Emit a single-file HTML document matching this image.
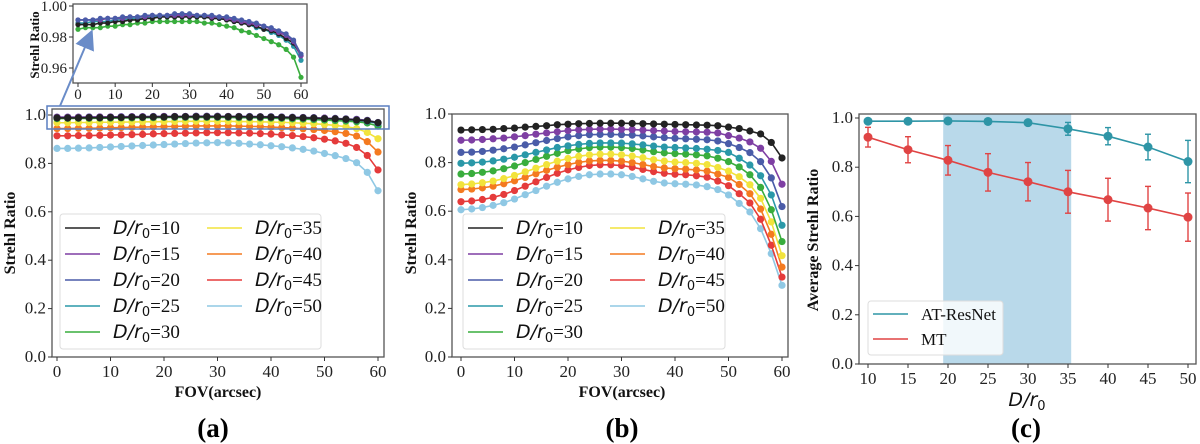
<!DOCTYPE html>
<html><head><meta charset="utf-8">
<style>
html,body{margin:0;padding:0;background:#fff;}
svg{display:block;}
text{font-family:"Liberation Serif",serif;}
.tk{font-family:"Liberation Serif",serif;font-size:17px;fill:#222;}
.tl{font-family:"Liberation Serif",serif;font-size:15px;font-weight:bold;fill:#111;}
.lg{font-family:"Liberation Serif",serif;font-size:19px;fill:#111;}
.it{font-family:"DejaVu Sans",sans-serif;font-style:italic;}
.pl{font-family:"Liberation Serif",serif;font-size:27px;font-weight:bold;fill:#000;}
</style></head>
<body>
<svg id="fig" width="1200" height="444" viewBox="0 0 1200 444" xmlns="http://www.w3.org/2000/svg"></svg>
<script>
// ---------- data ----------
const fov = [0,2,4,6,8,10,12,14,16,18,20,22,24,26,28,30,32,34,36,38,40,42,44,46,48,50,52,54,56,58,60];
const seriesLabels = ["10","15","20","25","30","35","40","45","50"];
const seriesColors = ["#222222","#7e3fa3","#4a5ca8","#2a98a8","#39ad3d","#f2e33c","#f47a20","#e53b3b","#8fc8e4"];
const aD10 = [0.988,0.988,0.988,0.989,0.989,0.990,0.990,0.991,0.991,0.992,0.992,0.993,0.993,0.993,0.993,0.993,0.993,0.993,0.992,0.992,0.991,0.990,0.989,0.988,0.987,0.985,0.984,0.982,0.979,0.976,0.968];
const aD15 = [0.991,0.991,0.991,0.991,0.992,0.992,0.992,0.993,0.993,0.993,0.994,0.994,0.994,0.994,0.994,0.994,0.994,0.994,0.993,0.993,0.992,0.991,0.990,0.989,0.988,0.987,0.985,0.983,0.981,0.977,0.968];
const aD20 = [0.991,0.991,0.991,0.992,0.992,0.992,0.993,0.993,0.993,0.994,0.994,0.994,0.994,0.995,0.995,0.995,0.994,0.994,0.994,0.993,0.993,0.992,0.991,0.990,0.989,0.987,0.986,0.984,0.982,0.978,0.969];
const aD25 = [0.989,0.989,0.990,0.990,0.990,0.991,0.991,0.992,0.992,0.992,0.993,0.993,0.993,0.993,0.993,0.993,0.993,0.993,0.992,0.992,0.991,0.990,0.989,0.988,0.986,0.985,0.983,0.981,0.978,0.974,0.965];
const aD30 = [0.985,0.986,0.986,0.986,0.987,0.987,0.988,0.988,0.989,0.989,0.990,0.990,0.990,0.990,0.990,0.990,0.990,0.989,0.989,0.988,0.987,0.986,0.984,0.983,0.981,0.979,0.977,0.975,0.972,0.967,0.954];
const aD35 = [0.968,0.968,0.969,0.969,0.970,0.970,0.971,0.971,0.972,0.972,0.973,0.973,0.974,0.974,0.974,0.974,0.974,0.973,0.973,0.972,0.971,0.970,0.968,0.966,0.964,0.961,0.957,0.952,0.944,0.928,0.902];
const aD40 = [0.944,0.944,0.945,0.945,0.946,0.947,0.948,0.949,0.950,0.951,0.952,0.953,0.954,0.955,0.955,0.955,0.955,0.954,0.953,0.952,0.950,0.948,0.946,0.943,0.940,0.936,0.931,0.924,0.913,0.890,0.847];
const aD45 = [0.914,0.914,0.915,0.915,0.916,0.917,0.918,0.919,0.920,0.922,0.923,0.924,0.925,0.926,0.927,0.927,0.927,0.926,0.925,0.923,0.921,0.918,0.915,0.911,0.906,0.900,0.893,0.883,0.866,0.833,0.773];
const aD50 = [0.862,0.862,0.863,0.864,0.866,0.868,0.870,0.872,0.874,0.876,0.878,0.880,0.882,0.884,0.885,0.886,0.885,0.883,0.880,0.877,0.873,0.869,0.864,0.858,0.851,0.841,0.832,0.820,0.803,0.763,0.687];
const bD10 = [0.934,0.935,0.936,0.937,0.940,0.942,0.946,0.949,0.952,0.956,0.958,0.960,0.961,0.962,0.962,0.962,0.961,0.960,0.959,0.958,0.957,0.956,0.955,0.954,0.952,0.946,0.940,0.930,0.918,0.883,0.819];
const bD15 = [0.892,0.893,0.895,0.898,0.901,0.906,0.911,0.917,0.922,0.927,0.932,0.935,0.937,0.938,0.938,0.937,0.936,0.934,0.932,0.930,0.928,0.927,0.926,0.925,0.922,0.911,0.901,0.885,0.859,0.805,0.711];
const bD20 = [0.842,0.843,0.846,0.851,0.857,0.864,0.873,0.882,0.891,0.899,0.906,0.911,0.915,0.916,0.916,0.915,0.913,0.910,0.906,0.903,0.900,0.898,0.896,0.894,0.889,0.878,0.862,0.841,0.804,0.737,0.619];
const bD25 = [0.797,0.799,0.802,0.807,0.814,0.822,0.832,0.842,0.852,0.862,0.869,0.875,0.879,0.881,0.881,0.880,0.877,0.873,0.868,0.864,0.862,0.860,0.858,0.855,0.850,0.842,0.818,0.790,0.746,0.667,0.542];
const bD30 = [0.753,0.755,0.760,0.766,0.775,0.786,0.800,0.813,0.826,0.838,0.849,0.856,0.862,0.864,0.864,0.862,0.858,0.852,0.845,0.840,0.837,0.835,0.832,0.828,0.818,0.804,0.782,0.750,0.698,0.606,0.475];
const bD35 = [0.709,0.712,0.717,0.724,0.734,0.747,0.762,0.777,0.792,0.806,0.817,0.826,0.832,0.835,0.835,0.832,0.827,0.820,0.812,0.806,0.802,0.800,0.797,0.792,0.780,0.765,0.742,0.709,0.653,0.556,0.417];
const bD40 = [0.689,0.691,0.696,0.703,0.713,0.725,0.739,0.754,0.768,0.781,0.792,0.801,0.807,0.809,0.809,0.806,0.800,0.792,0.784,0.778,0.775,0.773,0.770,0.765,0.753,0.739,0.710,0.672,0.609,0.505,0.370];
const bD45 = [0.639,0.642,0.648,0.657,0.669,0.685,0.703,0.721,0.739,0.756,0.770,0.780,0.788,0.791,0.791,0.788,0.781,0.772,0.763,0.756,0.752,0.750,0.746,0.740,0.724,0.705,0.672,0.634,0.567,0.460,0.329];
const bD50 = [0.606,0.609,0.615,0.624,0.635,0.650,0.668,0.685,0.703,0.719,0.733,0.743,0.750,0.753,0.753,0.750,0.743,0.733,0.723,0.716,0.713,0.711,0.708,0.701,0.689,0.667,0.632,0.597,0.528,0.425,0.295];
const cCats = [10,15,20,25,30,35,40,45,50];
const cAT = [0.987,0.987,0.988,0.986,0.981,0.956,0.926,0.882,0.823];
const cATerr = [0,0,0,0,0,0.026,0.035,0.052,0.086];
const cMT = [0.922,0.871,0.828,0.779,0.741,0.700,0.668,0.634,0.597];
const cMTerr = [0.040,0.053,0.060,0.076,0.078,0.087,0.087,0.088,0.098];
const cBand = [19.4,35.4];
const xTicksFov = [0,10,20,30,40,50,60];
const yTicks = [0,0.2,0.4,0.6,0.8,1.0];
const yTicksInset = [0.96,0.98,1.00];

// ---------- helpers ----------
const NS="http://www.w3.org/2000/svg";
const svg=document.getElementById('fig');
function mk(tag,attrs,parent){const e=document.createElementNS(NS,tag);for(const k in attrs)e.setAttribute(k,attrs[k]);(parent||svg).appendChild(e);return e;}
function txt(s,x,y,cls,anchor,parent){const t=mk('text',{x:x,y:y,'class':cls,'text-anchor':anchor||'middle'},parent);t.textContent=s;return t;}

function axes(name,box,xs,ys,xt,yt,ydec,tickFs){
  const g=mk('g',{});
  
  
  const r=mk('rect',{x:box[0],y:box[1],width:box[2]-box[0],height:box[3]-box[1],fill:'none',stroke:'#555','stroke-width':1.3},g);
  
  
  xt.forEach(v=>{const X=xs(v);mk('line',{x1:X,x2:X,y1:box[3],y2:box[3]+4,stroke:'#333'},g);
    const t=txt(String(v),X,box[3]+(tickFs>15?20:16),'tk','middle',g);t.style.fontSize=tickFs+'px';
    });
  yt.forEach(v=>{const Y=ys(v);mk('line',{x1:box[0]-4,x2:box[0],y1:Y,y2:Y,stroke:'#333'},g);
    const t=txt(v.toFixed(ydec),box[0]-6,Y+5,'tk','end',g);t.style.fontSize=tickFs+'px';
    });
  return g;
}
function series(name,arrX,arrY,xs,ys,color,r,clip){
  const g=mk('g',{});
  
  
  if(clip)g.setAttribute('clip-path',clip);
  const pts=arrX.map((v,i)=>xs(v)+','+ys(arrY[i])).join(' ');
  mk('polyline',{points:pts,fill:'none',stroke:color,'stroke-width':1.6},g);
  arrX.forEach((v,i)=>mk('circle',{cx:xs(v),cy:ys(arrY[i]),r:r,fill:color},g));
  return g;
}
function legendFOV(name,x0,y0,w,h){
  const g=mk('g',{});
  
  
  mk('rect',{x:x0,y:y0,width:w,height:h,rx:3,fill:'#fff','fill-opacity':0.85,stroke:'#ddd'},g);
  seriesLabels.forEach((lab,i)=>{
    const col=i<5?0:1,row=i<5?i:i-5;
    const lx=x0+5+col*142,ly=y0+14+row*26;
    const e=mk('g',{},g);
    
    
    mk('line',{x1:lx,x2:lx+35,y1:ly,y2:ly,stroke:seriesColors[i],'stroke-width':1.6},e);
    const t=mk('text',{x:lx+48,y:ly+6,'class':'lg'},e);
    t.innerHTML='<tspan class="it">D</tspan><tspan class="it">/</tspan><tspan class="it">r</tspan><tspan style="font-family:DejaVu Sans,sans-serif;font-size:13px" dy="4">0</tspan><tspan dy="-4">='+lab+'</tspan>';
  });
}

// ---------- panel (a) ----------
const aBox=[52,109,384,357];
const axs=v=>57+v*(321/60), ays=v=>357-v*242;
axes('panel-a-axes',aBox,axs,ays,xTicksFov,yTicks,1,17);
const aData=[aD10,aD15,aD20,aD25,aD30,aD35,aD40,aD45,aD50];
for(let i=aData.length-1;i>=0;i--) series('panel-a-series-d'+seriesLabels[i],fov,aData[i],axs,ays,seriesColors[i],3.6);
legendFOV('panel-a-legend',60,214,261,135);
let t=txt('FOV(arcsec)',218,397,'tl');t.style.fontSize='16px';
t=txt('Strehl Ratio',0,0,'tl');t.style.fontSize='16px';t.setAttribute('transform','translate(15,233) rotate(-90)');
t=txt('(a)',213,437,'pl');
const zb=mk('rect',{x:47,y:106,width:342,height:23,fill:'none',stroke:'#5a7fc0','stroke-width':1.5});


// ---------- inset ----------
const iBox=[73,4,307,83];
const ixs=v=>78+v*(223/60), iys=v=>37-(v-0.98)*1550;
mk('defs',{}).innerHTML='<clipPath id="ic"><rect x="73" y="4" width="234" height="79"/></clipPath><marker id="ah" markerWidth="10" markerHeight="10" refX="8" refY="5" orient="auto"><path d="M0,0 L10,5 L0,10 z" fill="#6a8cc8"/></marker>';
mk('rect',{x:73,y:4,width:234,height:79,fill:'#fff'});
axes('inset-axes',iBox,ixs,iys,xTicksFov,yTicksInset,2,15);
[aD30,aD25,aD10,aD15,aD20].forEach((d,k)=>{const idx=[4,3,0,1,2][k];series('inset-series-d'+seriesLabels[idx],fov,d,ixs,iys,seriesColors[idx],2.6,'url(#ic)');});
t=txt('Strehl Ratio',0,0,'tl');t.style.fontSize='13px';t.setAttribute('transform','translate(39,45) rotate(-90)');
const ar=mk('line',{x1:60,y1:106,x2:91,y2:33,stroke:'#6a8cc8','stroke-width':2,'marker-end':'url(#ah)'});


// ---------- panel (b) ----------
const bBox=[452,114,788,357];
const bxs=v=>461+v*(321/60), bys=v=>357-v*243;
axes('panel-b-axes',bBox,bxs,bys,xTicksFov,yTicks,1,17);
const bData=[bD10,bD15,bD20,bD25,bD30,bD35,bD40,bD45,bD50];
for(let i=bData.length-1;i>=0;i--) series('panel-b-series-d'+seriesLabels[i],fov,bData[i],bxs,bys,seriesColors[i],3.6);
legendFOV('panel-b-legend',463,214,262,135);
t=txt('FOV(arcsec)',622,397,'tl');t.style.fontSize='16px';
t=txt('Strehl Ratio',0,0,'tl');t.style.fontSize='16px';t.setAttribute('transform','translate(416,233) rotate(-90)');
t=txt('(b)',622,437,'pl');

// ---------- panel (c) ----------
const cBox=[859,114,1196,364];
const cxs=v=>868+(v-10)*8, cys=v=>364-v*246;
const band=mk('rect',{x:cxs(cBand[0]),y:cBox[1],width:cxs(cBand[1])-cxs(cBand[0]),height:cBox[3]-cBox[1],fill:'#b9d9ea'});

axes('panel-c-axes',cBox,cxs,cys,cCats,yTicks,1,17);
function errSeries(name,vals,errs,color){
  const g=mk('g',{});
  
  
  cCats.forEach((c,i)=>{if(errs[i]>0){const X=cxs(c);
    mk('line',{x1:X,x2:X,y1:cys(vals[i]-errs[i]),y2:cys(vals[i]+errs[i]),stroke:color,'stroke-width':1.4},g);
    mk('line',{x1:X-3,x2:X+3,y1:cys(vals[i]-errs[i]),y2:cys(vals[i]-errs[i]),stroke:color,'stroke-width':1.4},g);
    mk('line',{x1:X-3,x2:X+3,y1:cys(vals[i]+errs[i]),y2:cys(vals[i]+errs[i]),stroke:color,'stroke-width':1.4},g);}});
  mk('polyline',{points:cCats.map((c,i)=>cxs(c)+','+cys(vals[i])).join(' '),fill:'none',stroke:color,'stroke-width':1.6},g);
  cCats.forEach((c,i)=>mk('circle',{cx:cxs(c),cy:cys(vals[i]),r:4.5,fill:color},g));
}
errSeries('series-mt',cMT,cMTerr,'#e04444');
errSeries('series-at-resnet',cAT,cATerr,'#2e95a6');
const lg=mk('g',{});
mk('rect',{x:868,y:301,width:135,height:54,rx:3,fill:'#fff','fill-opacity':0.8,stroke:'#ddd'},lg);
mk('line',{x1:873,x2:908,y1:314,y2:314,stroke:'#2e95a6','stroke-width':1.6},lg);
mk('line',{x1:873,x2:908,y1:339,y2:339,stroke:'#e04444','stroke-width':1.6},lg);
t=txt('AT-ResNet',921,320,'lg','start',lg);t.style.fontSize='17px';
t=txt('MT',921,345,'lg','start',lg);t.style.fontSize='17px';
t=mk('text',{x:1027,y:406,'text-anchor':'middle','class':'lg'});
t.innerHTML='<tspan class="it">D</tspan><tspan class="it">/</tspan><tspan class="it">r</tspan><tspan style="font-family:DejaVu Sans,sans-serif;font-size:13px" dy="4">0</tspan>';

t=txt('Average Strehl Ratio',0,0,'tl');t.style.fontSize='16px';t.setAttribute('transform','translate(818,240) rotate(-90)');
t=txt('(c)',1026,437,'pl');
</script>
</body></html>
